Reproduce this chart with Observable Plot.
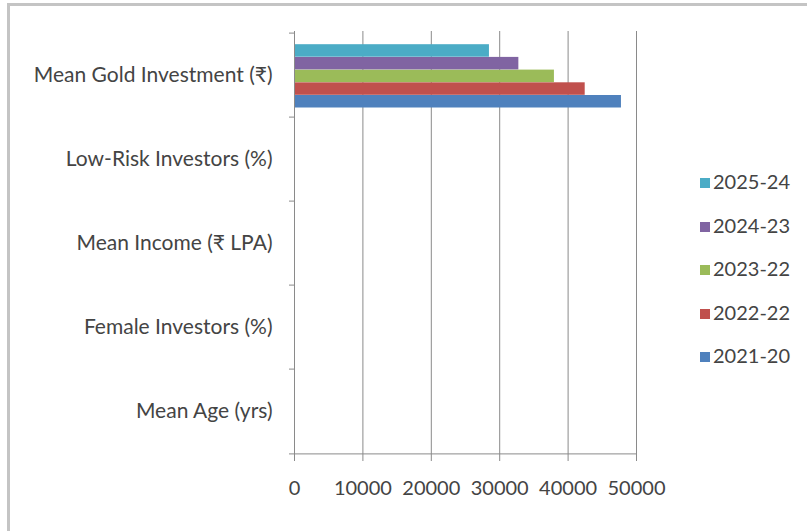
<!DOCTYPE html>
<html>
<head>
<meta charset="utf-8">
<script src="https://cdn.jsdelivr.net/npm/d3@7"></script>
<script src="https://cdn.jsdelivr.net/npm/@observablehq/plot@0.6"></script>
<style>
  html, body { margin: 0; padding: 0; background: #fff; }
  #wrap { position: relative; width: 807px; height: 531px; overflow: hidden; font-family: Lato, "Noto Sans", sans-serif; }
  #border { position: absolute; left: 7px; top: 3px; width: 900px; height: 600px; border-top: 3px solid #c4c4c4; border-left: 3px solid #c4c4c4; box-sizing: border-box; }
  #chart { position: absolute; left: 0; top: 0; }
  .leg { position: absolute; left: 700px; font-size: 20px; color: #444; line-height: 1; white-space: nowrap; }
  .leg span.sw { display: inline-block; width: 10px; height: 10px; margin-right: 3px; vertical-align: 1px; }
</style>
</head>
<body>
<div id="wrap">
  <div id="border"></div>
  <div id="chart"></div>
  <div id="legend"></div>
</div>
<script>
// Categories, bottom to top as in the original chart
const categories = ["Mean Age (yrs)", "Female Investors (%)", "Mean Income (₹ LPA)", "Low-Risk Investors (%)", "Mean Gold Investment (₹)"];
// Series (bottom bar in group first)
const seriesNames = ["2021-20", "2022-22", "2023-22", "2024-23", "2025-24"];
// Values per series, one entry per category (small values are invisible at this scale)
const s2021_20 = [35.6, 21, 7.2, 68, 47800];
const s2022_22 = [35.2, 23, 7.8, 66, 42500];
const s2023_22 = [34.8, 25, 8.4, 64, 38000];
const s2024_23 = [34.3, 27, 9.1, 62, 32800];
const s2025_24 = [33.9, 29, 9.8, 60, 28500];
const xTicks = [0, 10000, 20000, 30000, 40000, 50000];
const colors = ["#4F81BD", "#C0504D", "#9BBB59", "#8064A2", "#4BACC6"];

const seriesValues = [s2021_20, s2022_22, s2023_22, s2024_23, s2025_24];
const rows = [];
seriesNames.forEach((s, i) => categories.forEach((c, k) => rows.push({series: s, category: c, value: seriesValues[i][k]})));

const W = 807, H = 531;
const mTop = 31, mBottom = 76, mLeft = 294, mRight = 171;
const bw = (H - mTop - mBottom) / categories.length;
const groupTop = 11.5, barH = 12.7;

const barMarks = seriesNames.map((s, i) => {
  const j = seriesNames.length - 1 - i; // index from top
  const top = groupTop + barH * j;
  return Plot.barX(rows.filter(r => r.series === s), {
    x: "value", y: "category", fill: colors[i],
    insetTop: top - 0.3, insetBottom: bw - top - barH - 0.3
  });
});

const chart = Plot.plot({
  width: W, height: H,
  marginTop: mTop, marginBottom: mBottom, marginLeft: mLeft, marginRight: mRight,
  style: {fontFamily: "Lato, 'Noto Sans', sans-serif", fontSize: "20px", color: "#444", background: "transparent"},
  x: {domain: [0, 50000], ticks: xTicks, tickFormat: d => String(d)},
  y: {domain: categories.slice().reverse(), padding: 0},
  marks: [
    Plot.gridX(xTicks, {stroke: "#8a8a8a", strokeOpacity: 1, strokeWidth: 1}),
    ...barMarks,
    Plot.ruleX([0], {stroke: "#8a8a8a"}),
    Plot.ruleY([categories[0]], {dy: bw / 2, stroke: "#8a8a8a"}),
    Plot.axisX(xTicks, {tickSize: 6, tickPadding: 19, stroke: "#8a8a8a", tickFormat: d => String(d), label: null, fill: "#444", fontSize: 20}),
    Plot.axisY({tickSize: 0, tickPadding: 22, label: null, fill: "#444", fontSize: 21}),
    Plot.axisY({tickSize: 5, text: null, label: null, dy: -bw / 2, stroke: "#8a8a8a"}),
    Plot.axisY([categories[0]], {tickSize: 5, text: null, label: null, dy: bw / 2, stroke: "#8a8a8a"})
  ]
});
document.getElementById("chart").appendChild(chart);

// Legend (top entry = last series)
const legendTop = 181, legendStep = 43.5;
const legend = document.getElementById("legend");
seriesNames.slice().reverse().forEach((s, j) => {
  const i = seriesNames.length - 1 - j;
  const d = document.createElement("div");
  d.className = "leg";
  d.style.top = (legendTop + legendStep * j - 10) + "px";
  d.innerHTML = `<span class="sw" style="background:${colors[i]}"></span>${s}`;
  legend.appendChild(d);
});
</script>
</body>
</html>
